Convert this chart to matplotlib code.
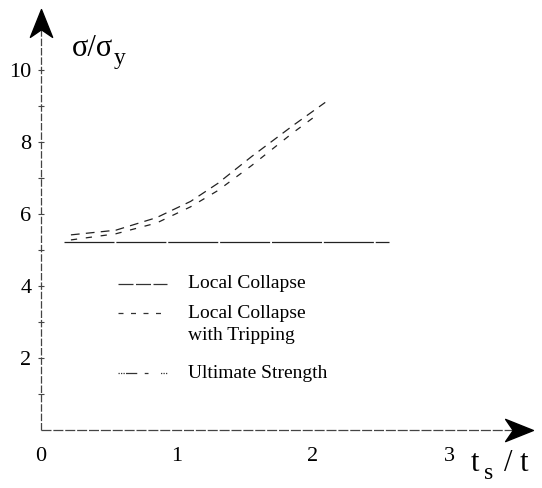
import matplotlib
matplotlib.use("Agg")
import matplotlib.pyplot as plt
from matplotlib.path import Path

plt.rcParams['font.family'] = ['Liberation Serif', 'DejaVu Serif']

# ---- data ----
ts_flat = [0.17, 2.56]
local_collapse = [5.22, 5.22]

ts_trip = [0.22, 0.55, 0.85, 1.10, 1.30, 1.55, 1.85, 2.09]
local_trip = [5.42, 5.55, 5.90, 6.35, 6.85, 7.60, 8.45, 9.10]

ts_ult = [0.22, 0.55, 0.85, 1.10, 1.30, 1.55, 1.85, 2.00]
ultimate = [5.28, 5.45, 5.75, 6.20, 6.65, 7.35, 8.25, 8.67]

x_ticks = [0, 1, 2, 3]
y_major = [2, 4, 6, 8, 10]
y_minor = [1, 3, 5, 7, 9]

W, H = 542, 488
fig = plt.figure(figsize=(W / 100, H / 100), dpi=100)
# axes origin at pixel (41, 430); 1 x-unit = 136 px, 1 y-unit = 36 px
x0, y0 = 41, 430
xmax = (532 - x0) / 136
ymax = (y0 - 10) / 36
ax = fig.add_axes([x0 / W, (H - y0) / H, (532 - x0) / W, (y0 - 10) / H])
ax.set_xlim(0, xmax)
ax.set_ylim(0, ymax)
for s in ax.spines.values():
    s.set_visible(False)

# axes lines
ax.plot([0, xmax - 0.12], [0, 0], color='#444444', lw=0.9, ls=(0, (8, 1.5)), clip_on=False)
ax.plot([0, 0], [0, ymax - 0.5], color='#444444', lw=0.9, ls=(0, (6, 1.5)), clip_on=False)

# arrowheads (concave chevrons)
arrow_r = Path([(1, 0), (-1, 0.8), (-0.45, 0), (-1, -0.8), (1, 0)],
               [Path.MOVETO, Path.LINETO, Path.LINETO, Path.LINETO, Path.CLOSEPOLY])
arrow_u = Path([(0, 1), (0.8, -1), (0, -0.45), (-0.8, -1), (0, 1)],
               [Path.MOVETO, Path.LINETO, Path.LINETO, Path.LINETO, Path.CLOSEPOLY])
ax.plot([xmax - 0.095], [0], marker=arrow_r, ms=20, color='black', clip_on=False)
ax.plot([0], [ymax - 0.35], marker=arrow_u, ms=20, color='black', clip_on=False)

# y ticks
ax.set_yticks(y_major)
ax.set_yticklabels([str(v) for v in y_major], fontsize=16)
ax.set_yticks(y_minor, minor=True)
ax.tick_params(axis='y', which='both', direction='inout', length=4, width=0.8,
               color='#444444', pad=5, left=True, right=False)
# x tick labels (no marks)
ax.set_xticks(x_ticks)
ax.set_xticklabels([str(v) for v in x_ticks], fontsize=16)
ax.tick_params(axis='x', length=0, pad=12)

# data lines
l1, = ax.plot(ts_flat, local_collapse, color='#222222', lw=0.9, ls=(0, (40, 1.5)))
l2, = ax.plot(ts_trip, local_trip, color='#222222', lw=0.9, ls=(0, (7, 5)))
l3, = ax.plot(ts_ult, ultimate, color='#222222', lw=0.9, ls=(0, (5, 7)))

# legend drawn manually
def px(xp, yp):
    return ((xp - x0) / 136, (y0 - yp) / 36)

for (yp, style, lines) in [(284, (0, (12, 2)), ['Local Collapse']),
                           (313, (0, (4, 6)), ['Local Collapse', 'with Tripping']),
                           (373, (0, (1, 1, 1, 1, 1, 1, 9, 6, 3, 10)), ['Ultimate Strength'])]:
    a = px(118, yp)
    b = px(167, yp)
    ax.plot([a[0], b[0]], [a[1], b[1]], color='#333333', lw=0.9, ls=style)
    tx, ty = px(188, yp)
    ax.text(tx, ty, lines[0], fontsize=14, va='center', ha='left')
    if len(lines) > 1:
        tx2, ty2 = px(188, yp + 23)
        ax.text(tx2, ty2, lines[1], fontsize=14, va='center', ha='left')

# axis titles
fig.text(72 / W, 1 - 56 / H, 'σ/σ', fontsize=22, ha='left', va='baseline')
fig.text(114 / W, 1 - 64 / H, 'y', fontsize=17, ha='left', va='baseline')
fig.text(471 / W, 1 - 471 / H, 't', fontsize=22, ha='left', va='baseline')
fig.text(484 / W, 1 - 479 / H, 's', fontsize=17, ha='left', va='baseline')
fig.text(504 / W, 1 - 471 / H, '/ t', fontsize=22, ha='left', va='baseline')

fig.savefig('out.png', dpi=100)
